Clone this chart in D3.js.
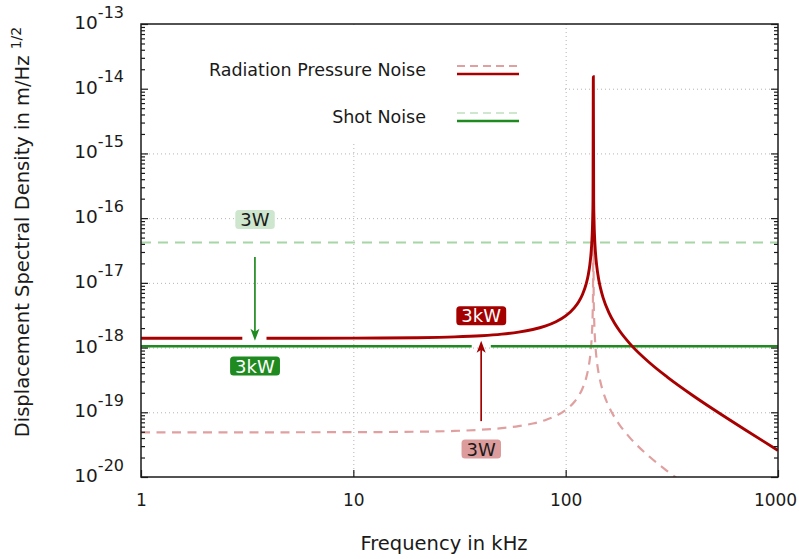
<!DOCTYPE html>
<html>
<head>
<meta charset="utf-8">
<script src="https://cdn.jsdelivr.net/npm/d3@7"></script>
<style>
  body { margin: 0; background: #fff; }
  text { font-family: "DejaVu Sans", Verdana, sans-serif; fill: #1a1a1a; }
</style>
</head>
<body>
<div id="viz"></div>
<script>
// Frequencies in kHz, values in m/Hz^1/2
const rpFreq = [1, 2, 3, 3.4, 3.9, 5, 10, 20, 30, 40, 50, 60, 70, 80, 90, 100, 110, 115, 120, 125,
                128, 130, 132, 133, 134, 134.5, 135, 135.5, 136, 137, 138, 140, 143, 146, 150,
                160, 170, 180, 200, 250, 300, 400, 500, 700, 1000]
const rp3kW = [1.39e-18, 1.39e-18, 1.39e-18, null, 1.39e-18, 1.392e-18, 1.398e-18, 1.421e-18, 1.462e-18, 1.524e-18,
               1.611e-18, 1.732e-18, 1.901e-18, 2.142e-18, 2.502e-18, 3.08e-18, 4.136e-18, 5.067e-18, 6.622e-18, 9.741e-18,
               1.376e-17, 1.912e-17, 3.166e-17, 4.728e-17, 9.39e-17, 1.878e-16, 1.53e-14, 1.876e-16, 9.35e-17, 4.657e-17,
               3.093e-17, 1.842e-17, 1.139e-17, 8.197e-18, 5.926e-18, 3.435e-18, 2.373e-18, 1.787e-18, 1.163e-18, 5.722e-19,
               3.53e-19, 1.787e-19, 1.093e-19, 5.37e-20, 2.58e-20]
const rp3W = [4.9e-20, 4.9e-20, 4.9e-20, 4.9e-20, 4.9e-20, 4.91e-20, 4.93e-20, 5.01e-20, 5.15e-20, 5.37e-20,
              5.68e-20, 6.11e-20, 6.7e-20, 7.55e-20, 8.82e-20, 1.086e-19, 1.458e-19, 1.786e-19, 2.334e-19, 3.434e-19,
              4.851e-19, 6.74e-19, 1.116e-18, 1.667e-18, 3.31e-18, 6.62e-18, 5.4e-16, 6.61e-18, 3.3e-18, 1.642e-18,
              1.09e-18, 6.49e-19, 4.01e-19, 2.889e-19, 2.089e-19, 1.211e-19, 8.37e-20, 6.3e-20, 4.1e-20, 2.017e-20,
              1.244e-20, 6.3e-21, 3.9e-21, 1.9e-21, 9.1e-22]

const shotFreq = [1, 36.1, 40, 44.4, 1000]
const shot3W = [4.2e-17, 4.2e-17, 4.2e-17, 4.2e-17, 4.2e-17]
const shot3kW = [1.05e-18, 1.05e-18, null, 1.05e-18, 1.05e-18]

const xTicks = [1, 10, 100, 1000]
const yExps = [-20, -19, -18, -17, -16, -15, -14, -13]

// annotations: [freq, value]
const labels = [
  {text: '3W', at: [3.44, 9.5e-17], fill: '#cde6cd', color: '#1a1a1a'},
  {text: '3kW', at: [3.44, 5.2e-19], fill: '#1f8a1f', color: '#ffffff'},
  {text: '3kW', at: [40, 3.1e-18], fill: '#a50000', color: '#ffffff'},
  {text: '3W', at: [40, 2.7e-20], fill: '#dc9c9c', color: '#1a1a1a'}
]
const arrows = [
  {f: 3.44, from: 2.5e-17, to: 1.28e-18, color: '#1f8a1f'},
  {f: 40, from: 7.3e-20, to: 1.28e-18, color: '#a50000'}
]

let width = 799,
    height = 559,
    mLeft = 141, mRight = 778, mTop = 24, mBottom = 477;

// Scales
let xScale = d3.scaleLog().domain([1, 1000]).range([mLeft, mRight])
let yScale = d3.scaleLog().domain([1e-20, 1e-13]).range([mBottom, mTop])

// Setup & append SVG
let svg = d3.select('#viz')
            .append('svg')
            .attr('width', width)
            .attr('height', height)
            .style('background', '#fff')

svg.append('defs').append('clipPath').attr('id', 'plot')
   .append('rect').attr('x', mLeft).attr('y', mTop)
   .attr('width', mRight - mLeft).attr('height', mBottom - mTop)

// Grid
let yGridVals = yExps.slice(1, -1).map(e => Math.pow(10, e))
svg.append('g')
   .attr('transform', `translate(${mLeft},0)`)
   .call(d3.axisLeft(yScale).tickValues(yGridVals).tickSize(-(mRight - mLeft)).tickFormat(''))
   .call(g => g.select('.domain').remove())
   .selectAll('line').attr('stroke', '#b4b4b4').attr('stroke-dasharray', '1,3')

svg.append('g')
   .attr('transform', `translate(0,${mBottom})`)
   .call(d3.axisBottom(xScale).tickValues([10, 100]).tickSize(-(mBottom - mTop)).tickFormat(''))
   .call(g => g.select('.domain').remove())
   .selectAll('line').attr('stroke', '#b4b4b4').attr('stroke-dasharray', '1,3')

// opaque key box hides the grid behind the legend
svg.append('rect')
   .attr('x', mLeft + 1).attr('y', mTop + 1)
   .attr('width', 423).attr('height', 119)
   .style('fill', '#fff')

// Lines
let line = d3.line()
             .defined(d => d[1] != null)
             .x(d => xScale(d[0]))
             .y(d => yScale(d[1]))
             .curve(d3.curveMonotoneX)

let plot = svg.append('g').attr('clip-path', 'url(#plot)')

let series = [
  {f: shotFreq, v: shot3W, color: '#a6d6a6', w: 2.2, dash: '10,7'},
  {f: rpFreq, v: rp3W, color: '#e0a0a0', w: 2.2, dash: '9,6.5'},
  {f: shotFreq, v: shot3kW, color: '#1f8a1f', w: 2.5, dash: null},
  {f: rpFreq, v: rp3kW, color: '#a80000', w: 2.9, dash: null}
]

plot.selectAll('path.series')
    .data(series)
    .enter()
      .append('path')
      .attr('class', 'series')
      .attr('d', s => line(s.f.map((f, i) => [f, s.v[i]])))
      .style('fill', 'none')
      .style('stroke', s => s.color)
      .style('stroke-width', s => s.w)
      .style('stroke-dasharray', s => s.dash)

// Arrows
arrows.forEach(a => {
  let x = xScale(a.f), y0 = yScale(a.from), y1 = yScale(a.to)
  let dir = y1 > y0 ? 1 : -1
  svg.append('line')
     .attr('x1', x).attr('x2', x)
     .attr('y1', y0).attr('y2', y1 - dir * 8)
     .style('stroke', a.color).style('stroke-width', 1.7)
  svg.append('path')
     .attr('d', `M${x},${y1} L${x - 4.5},${y1 - dir * 12} L${x},${y1 - dir * 9} L${x + 4.5},${y1 - dir * 12} Z`)
     .style('fill', a.color)
})

// Labels with boxes
labels.forEach(l => {
  let g = svg.append('g')
             .attr('transform', `translate(${xScale(l.at[0])},${yScale(l.at[1])})`)
  let t = g.append('text')
           .attr('text-anchor', 'middle')
           .attr('dy', '0.37em')
           .style('font-size', '18px')
           .style('fill', l.color)
           .text(l.text)
  let bb = t.node().getBBox()
  g.insert('rect', 'text')
   .attr('x', bb.x - 5).attr('y', -9.5)
   .attr('width', bb.width + 10).attr('height', 19)
   .attr('rx', 3.5)
   .style('fill', l.fill)
})

// Border
svg.append('rect')
   .attr('x', mLeft).attr('y', mTop)
   .attr('width', mRight - mLeft).attr('height', mBottom - mTop)
   .style('fill', 'none').style('stroke', '#1a1a1a').style('stroke-width', 1.5)

// Ticks
let minor = []
yExps.slice(0, -1).forEach(e => {
  for (let k = 2; k < 10; k++) minor.push(k * Math.pow(10, e))
})
let majorY = yExps.map(e => Math.pow(10, e))

function yTicks(axisFn, x, vals, size) {
  svg.append('g')
     .attr('transform', `translate(${x},0)`)
     .call(axisFn(yScale).tickValues(vals).tickSizeInner(-size).tickSizeOuter(0).tickFormat(''))
     .call(g => g.select('.domain').remove())
     .selectAll('line').attr('stroke', '#1a1a1a').attr('stroke-width', 1.2)
}
yTicks(d3.axisLeft, mLeft, majorY, 7)
yTicks(d3.axisLeft, mLeft, minor, 4)
yTicks(d3.axisRight, mRight, majorY, 7)
yTicks(d3.axisRight, mRight, minor, 4)

let xAxis = svg.append('g')
   .attr('transform', `translate(0,${mBottom})`)
   .call(d3.axisBottom(xScale).tickValues(xTicks).tickSizeInner(-7).tickSizeOuter(0)
           .tickPadding(17).tickFormat(d3.format('d')))
xAxis.select('.domain').remove()
xAxis.selectAll('line').attr('stroke', '#1a1a1a').attr('stroke-width', 1.2)
xAxis.selectAll('text')
     .style('font-size', '17px')
     .style('font-family', '"DejaVu Sans", Verdana, sans-serif')
     .style('fill', '#1a1a1a')
     .attr('dx', d => d === 1000 ? -3 : 0)

// Y tick labels 10^n
let yLab = svg.selectAll('text.ylab')
              .data(yExps)
              .enter()
                .append('text')
                .attr('class', 'ylab')
                .attr('text-anchor', 'end')
                .attr('x', 124)
                .attr('y', e => yScale(Math.pow(10, e)) + 5)
                .style('font-size', '18.5px')
yLab.append('tspan').text('10')
yLab.append('tspan').attr('dy', -11.5).style('font-size', '16px').text(e => '-' + Math.abs(e))

// Axis titles
svg.append('text')
   .attr('x', 444).attr('y', 550)
   .attr('text-anchor', 'middle')
   .style('font-size', '19.5px')
   .text('Frequency in kHz')

let yt = svg.append('text')
            .attr('transform', 'translate(29,232) rotate(-90)')
            .attr('text-anchor', 'middle')
            .style('font-size', '19.5px')
yt.append('tspan').text('Displacement Spectral Density in m/Hz ')
yt.append('tspan').attr('dy', -8).style('font-size', '14px').text('1/2')

// Legend
let legend = [
  {name: 'Radiation Pressure Noise', y: 76, light: '#e0a0a0', dark: '#a80000'},
  {name: 'Shot Noise', y: 123, light: '#cfe6cf', dark: '#1f8a1f'}
]
legend.forEach(l => {
  svg.append('text')
     .attr('x', 426).attr('y', l.y)
     .attr('text-anchor', 'end')
     .style('font-size', '17.5px')
     .text(l.name)
  svg.append('line')
     .attr('x1', 457).attr('x2', 519).attr('y1', l.y - 10).attr('y2', l.y - 10)
     .style('stroke', l.light).style('stroke-width', 2).style('stroke-dasharray', '8,5')
  svg.append('line')
     .attr('x1', 457).attr('x2', 519).attr('y1', l.y - 2).attr('y2', l.y - 2)
     .style('stroke', l.dark).style('stroke-width', 2.5)
})
</script>
</body>
</html>
